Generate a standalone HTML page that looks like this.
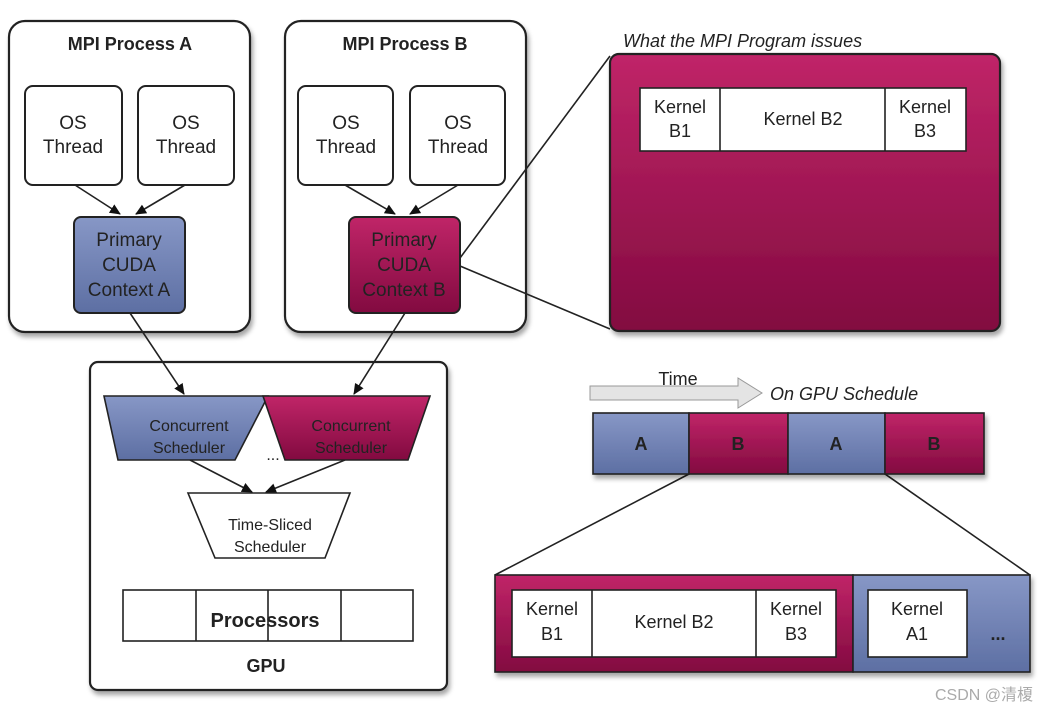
<!DOCTYPE html>
<html><head><meta charset="utf-8"><style>
html,body{margin:0;padding:0;background:#fff;}
svg{display:block;font-family:"Liberation Sans",Arial,sans-serif;}
</style></head><body>
<svg width="1045" height="709" viewBox="0 0 1045 709" xmlns="http://www.w3.org/2000/svg">
<defs>
<linearGradient id="mg" x1="0" y1="0" x2="0" y2="1"><stop offset="0" stop-color="#c02568"/><stop offset="1" stop-color="#820a40"/></linearGradient>
<linearGradient id="bg" x1="0" y1="0" x2="0" y2="1"><stop offset="0" stop-color="#8797c6"/><stop offset="1" stop-color="#5d6fa3"/></linearGradient>
<marker id="ar" markerWidth="12" markerHeight="12" refX="10" refY="6" orient="auto" markerUnits="userSpaceOnUse"><path d="M0,1 L11,6 L0,11 Z" fill="#111"/></marker>
<filter id="sh" x="-5%" y="-5%" width="115%" height="115%"><feDropShadow dx="2" dy="4" stdDeviation="2.5" flood-color="#000" flood-opacity="0.35"/></filter>
</defs>
<g stroke="#222" stroke-width="2.2" fill="#fff" filter="url(#sh)">
<rect x="9" y="21" width="241" height="311" rx="16"/>
<rect x="285" y="21" width="241" height="311" rx="16"/>
<rect x="90" y="362" width="357" height="328" rx="8"/>
<rect x="610" y="54" width="390" height="277" rx="9" fill="url(#mg)"/>
</g>
<g stroke="#222" stroke-width="2" fill="#fff">
<rect x="25" y="86" width="97" height="99" rx="8"/>
<rect x="138" y="86" width="96" height="99" rx="8"/>
<rect x="298" y="86" width="95" height="99" rx="8"/>
<rect x="410" y="86" width="95" height="99" rx="8"/>
<rect x="74" y="217" width="111" height="96" rx="7" fill="url(#bg)"/>
<rect x="349" y="217" width="111" height="96" rx="7" fill="url(#mg)"/>
</g>
<g stroke="#222" stroke-width="1.6" fill="none">
<line x1="460" y1="258" x2="610" y2="56"/>
<line x1="460" y1="266" x2="610" y2="329"/>
<line x1="75" y1="185" x2="120" y2="214" marker-end="url(#ar)"/>
<line x1="185" y1="185" x2="136" y2="214" marker-end="url(#ar)"/>
<line x1="345" y1="185" x2="395" y2="214" marker-end="url(#ar)"/>
<line x1="458" y1="185" x2="410" y2="214" marker-end="url(#ar)"/>
<line x1="130" y1="313" x2="184" y2="394" marker-end="url(#ar)"/>
<line x1="405" y1="313" x2="354" y2="394" marker-end="url(#ar)"/>
<line x1="190" y1="460" x2="252" y2="492" marker-end="url(#ar)"/>
<line x1="345" y1="460" x2="266" y2="492" marker-end="url(#ar)"/>
<line x1="689" y1="474" x2="495" y2="575"/>
<line x1="885" y1="474" x2="1030" y2="575"/>
</g>
<g stroke="#222" stroke-width="1.6">
<polygon points="104,396 268,396 235,460 118,460" fill="url(#bg)"/>
<polygon points="263,396 430,396 408,460 285,460" fill="url(#mg)"/>
<polygon points="188,493 350,493 325,558 215,558" fill="#fff"/>
<rect x="123" y="590" width="290" height="51" fill="#fff"/>
<line x1="196" y1="590" x2="196" y2="641"/><line x1="268" y1="590" x2="268" y2="641"/><line x1="341" y1="590" x2="341" y2="641"/>
<rect x="640" y="88" width="326" height="63" fill="#fff"/>
<line x1="720" y1="88" x2="720" y2="151"/><line x1="885" y1="88" x2="885" y2="151"/>
<g filter="url(#sh)">
<rect x="593" y="413" width="96" height="61" fill="url(#bg)"/>
<rect x="689" y="413" width="99" height="61" fill="url(#mg)"/>
<rect x="788" y="413" width="97" height="61" fill="url(#bg)"/>
<rect x="885" y="413" width="99" height="61" fill="url(#mg)"/>
<rect x="495" y="575" width="358" height="97" fill="url(#mg)"/>
<rect x="853" y="575" width="177" height="97" fill="url(#bg)"/>
</g>
<rect x="512" y="590" width="324" height="67" fill="#fff"/>
<line x1="592" y1="590" x2="592" y2="657"/><line x1="756" y1="590" x2="756" y2="657"/>
<rect x="868" y="590" width="99" height="67" fill="#fff"/>
</g>
<polygon points="590,386 738,386 738,378 762,393 738,408 738,400 590,400" fill="#e4e4e4" stroke="#999" stroke-width="1"/>
<g fill="#222" font-size="19" text-anchor="middle">
<text x="130" y="50" font-weight="bold" font-size="18">MPI Process A</text>
<text x="405" y="50" font-weight="bold" font-size="18">MPI Process B</text>
<text x="73" y="129">OS</text><text x="73" y="153">Thread</text>
<text x="186" y="129">OS</text><text x="186" y="153">Thread</text>
<text x="346" y="129">OS</text><text x="346" y="153">Thread</text>
<text x="458" y="129">OS</text><text x="458" y="153">Thread</text>
<text x="129" y="246">Primary</text><text x="129" y="271">CUDA</text><text x="129" y="296">Context A</text>
<text x="404" y="246">Primary</text><text x="404" y="271">CUDA</text><text x="404" y="296">Context B</text>
<g font-size="16"><text x="189" y="431">Concurrent</text><text x="189" y="453">Scheduler</text>
<text x="351" y="431">Concurrent</text><text x="351" y="453">Scheduler</text>
<text x="270" y="530">Time-Sliced</text><text x="270" y="552">Scheduler</text></g>
<text x="273" y="460" font-size="16">...</text>
<text x="265" y="627" font-weight="bold" font-size="20">Processors</text>
<text x="266" y="672" font-weight="bold" font-size="18">GPU</text>
<g font-size="18"><text x="680" y="113">Kernel</text><text x="680" y="137">B1</text>
<text x="803" y="125">Kernel B2</text>
<text x="925" y="113">Kernel</text><text x="925" y="137">B3</text>
<text x="552" y="615">Kernel</text><text x="552" y="640">B1</text>
<text x="674" y="628">Kernel B2</text>
<text x="796" y="615">Kernel</text><text x="796" y="640">B3</text>
<text x="917" y="615">Kernel</text><text x="917" y="640">A1</text>
<text x="998" y="640" font-weight="bold">...</text></g>
<g font-weight="bold" font-size="18"><text x="641" y="450">A</text><text x="738" y="450">B</text><text x="836" y="450">A</text><text x="934" y="450">B</text></g>
<text x="678" y="385" font-size="18">Time</text>
</g>
<g fill="#222" font-size="18" font-style="italic">
<text x="623" y="47">What the MPI Program issues</text>
<text x="770" y="400">On GPU Schedule</text>
</g>
<text x="1033" y="700" text-anchor="end" fill="#aaa" font-size="16" font-family="Liberation Sans, Noto Sans CJK SC, sans-serif">CSDN @清榎</text>
</svg>
</body></html>
